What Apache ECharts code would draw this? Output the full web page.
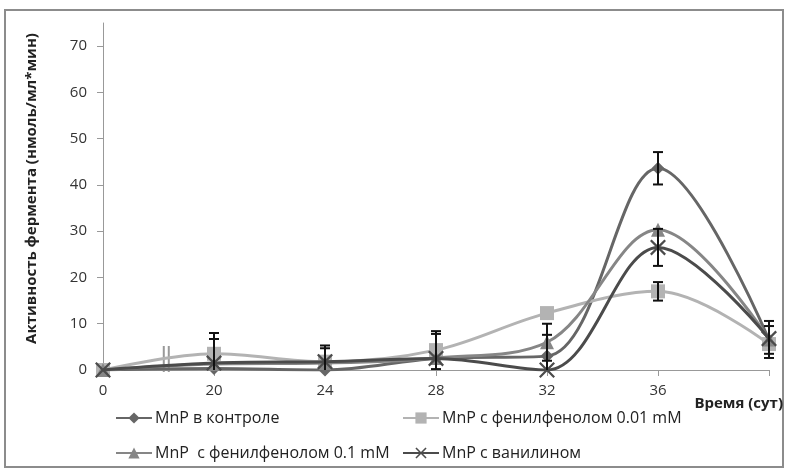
<!DOCTYPE html>
<html>
<head>
<meta charset="utf-8">
<script src="https://cdn.jsdelivr.net/npm/echarts@6/dist/echarts.min.js"></script>
<style>
  html, body { margin: 0; padding: 0; background: #fff; }
  #chart { width: 788px; height: 472px; }
</style>
</head>
<body>
<div id="chart"></div>
<script>
// время, сут (последняя точка без подписи)
var days = ['0', '20', '24', '28', '32', '36', '']
var yTicks = [0, 10, 20, 30, 40, 50, 60, 70]

var names = [
  'MnP в контроле',
  'MnP с фенилфенолом 0.01 mM',
  'MnP  с фенилфенолом 0.1 mM',
  'MnP с ванилином'
]

var control = [0, 0.3, 0, 2.5, 3, 43.6, 6.5]
var phenyl001 = [0, 3.5, 1.8, 4.3, 12.3, 17, 5.6]
var phenyl01 = [0, 1.3, 1.5, 2.6, 6, 30.3, 6.6]
var vanillin = [0, 1.5, 1.8, 2.5, 0, 26.5, 6.8]

// стандартное отклонение (null - без планки)
var errControl = [null, null, null, null, 4.6, 3.5, 3]
var errPhenyl001 = [null, 4.5, 3.5, 4.1, null, 2, null]
var errPhenyl01 = [null, null, null, 5.2, 4, null, 4]
var errVanillin = [null, 5.2, 2.9, null, null, 4, null]

var values = [control, phenyl001, phenyl01, vanillin]
var errors = [errControl, errPhenyl001, errPhenyl01, errVanillin]
var colors = ['#666666', '#b3b3b3', '#868686', '#4b4b4b']
var symbols = [
  'diamond',
  'rect',
  'triangle',
  'path://M0,1L1,0L5,4L9,0L10,1L6,5L10,9L9,10L5,6L1,10L0,9L4,5Z'
]
var symbolSizes = [13, 14, 14, 16]

var fontFamily = 'Open Sans'

var errData = []
values.forEach(function (vals, s) {
  errors[s].forEach(function (e, i) {
    if (e !== null) errData.push([i, vals[i] - e, vals[i] + e])
  })
})

var series = values.map(function (vals, s) {
  return {
    name: names[s],
    type: 'line',
    data: vals,
    smooth: 0.35,
    symbol: symbols[s],
    symbolSize: symbolSizes[s],
    showAllSymbol: true,
    lineStyle: { color: colors[s], width: 3 },
    itemStyle: { color: colors[s] },
    z: 3 + s
  }
})

series.push({
  type: 'custom',
  name: 'err',
  data: errData,
  z: 10,
  encode: { x: 0, y: [1, 2] },
  renderItem: function (params, api) {
    var x = api.coord([api.value(0), 0])[0]
    var low = api.value(1)
    var top = api.coord([api.value(0), api.value(2)])[1]
    var bot = api.coord([api.value(0), Math.max(low, 0)])[1]
    var w = 5
    var style = { stroke: '#111', lineWidth: 2 }
    var children = [
      { type: 'line', shape: { x1: x, y1: top, x2: x, y2: bot }, style: style },
      { type: 'line', shape: { x1: x - w, y1: top, x2: x + w, y2: top }, style: style }
    ]
    if (low >= 0) {
      children.push({ type: 'line', shape: { x1: x - w, y1: bot, x2: x + w, y2: bot }, style: style })
    }
    return { type: 'group', children: children }
  }
})

function legendAt (name, left, top) {
  return {
    data: [name],
    left: left,
    top: top,
    padding: 0,
    itemWidth: 36,
    itemHeight: 14,
    itemGap: 0,
    textStyle: { fontFamily: fontFamily, fontSize: 16, color: '#222', padding: [0, 0, 0, -2] }
  }
}

var option = {
  animation: false,
  backgroundColor: '#fff',
  grid: { left: 103, right: 19, top: 23, bottom: 102 },
  legend: [
    legendAt(names[0], 115, 410),
    legendAt(names[1], 402, 410),
    legendAt(names[2], 115, 445),
    legendAt(names[3], 402, 445)
  ],
  xAxis: {
    type: 'category',
    data: days,
    boundaryGap: false,
    name: 'Время (сут)',
    nameLocation: 'end',
    nameGap: 14,
    nameTextStyle: {
      fontFamily: fontFamily, fontSize: 15, fontWeight: 'bold', color: '#222',
      align: 'right', verticalAlign: 'top', padding: [26, 0, 0, 0]
    },
    axisLine: { lineStyle: { color: '#999', width: 1 } },
    axisTick: { show: true, length: 6, lineStyle: { color: '#999' } },
    axisLabel: { margin: 13, fontFamily: fontFamily, fontSize: 15, color: '#333' },
    splitLine: { show: false }
  },
  yAxis: {
    type: 'value',
    min: 0,
    max: 75,
    interval: 10,
    name: 'Активность фермента (нмоль/мл*мин)',
    nameLocation: 'middle',
    nameGap: 64,
    nameTextStyle: {
      fontFamily: fontFamily, fontSize: 15, fontWeight: 'bold', color: '#222',
      padding: [0, 0, 0, 16]
    },
    axisLine: { show: true, lineStyle: { color: '#999', width: 1 } },
    axisTick: { show: true, length: 6, lineStyle: { color: '#999' }, customValues: yTicks },
    axisLabel: { margin: 16, fontFamily: fontFamily, fontSize: 15, color: '#333', customValues: yTicks },
    splitLine: { show: false }
  },
  graphic: [
    {
      type: 'rect',
      shape: { x: 5, y: 10, width: 778, height: 457 },
      style: { fill: null, stroke: '#8c8c8c', lineWidth: 2 },
      silent: true
    }
  ],
  series: series
}

var myChart = echarts.init(document.getElementById('chart'))
myChart.setOption(option)

// разрыв оси между 0 и 20
var p0 = myChart.convertToPixel({ xAxisIndex: 0 }, 0)
var p1 = myChart.convertToPixel({ xAxisIndex: 0 }, 1)
var bx = p0 + (p1 - p0) * 0.57
var by = myChart.convertToPixel({ yAxisIndex: 0 }, 0)
myChart.setOption({
  graphic: [
    option.graphic[0],
    {
      type: 'group',
      z: 20,
      children: [
        { type: 'rect', shape: { x: bx - 2.5, y: by - 24, width: 5, height: 26 }, style: { fill: '#fff' } },
        { type: 'line', shape: { x1: bx - 2.5, y1: by - 24, x2: bx - 2.5, y2: by + 2 }, style: { stroke: '#999', lineWidth: 2 } },
        { type: 'line', shape: { x1: bx + 2.5, y1: by - 24, x2: bx + 2.5, y2: by + 2 }, style: { stroke: '#999', lineWidth: 2 } }
      ]
    }
  ]
})
</script>
</body>
</html>
